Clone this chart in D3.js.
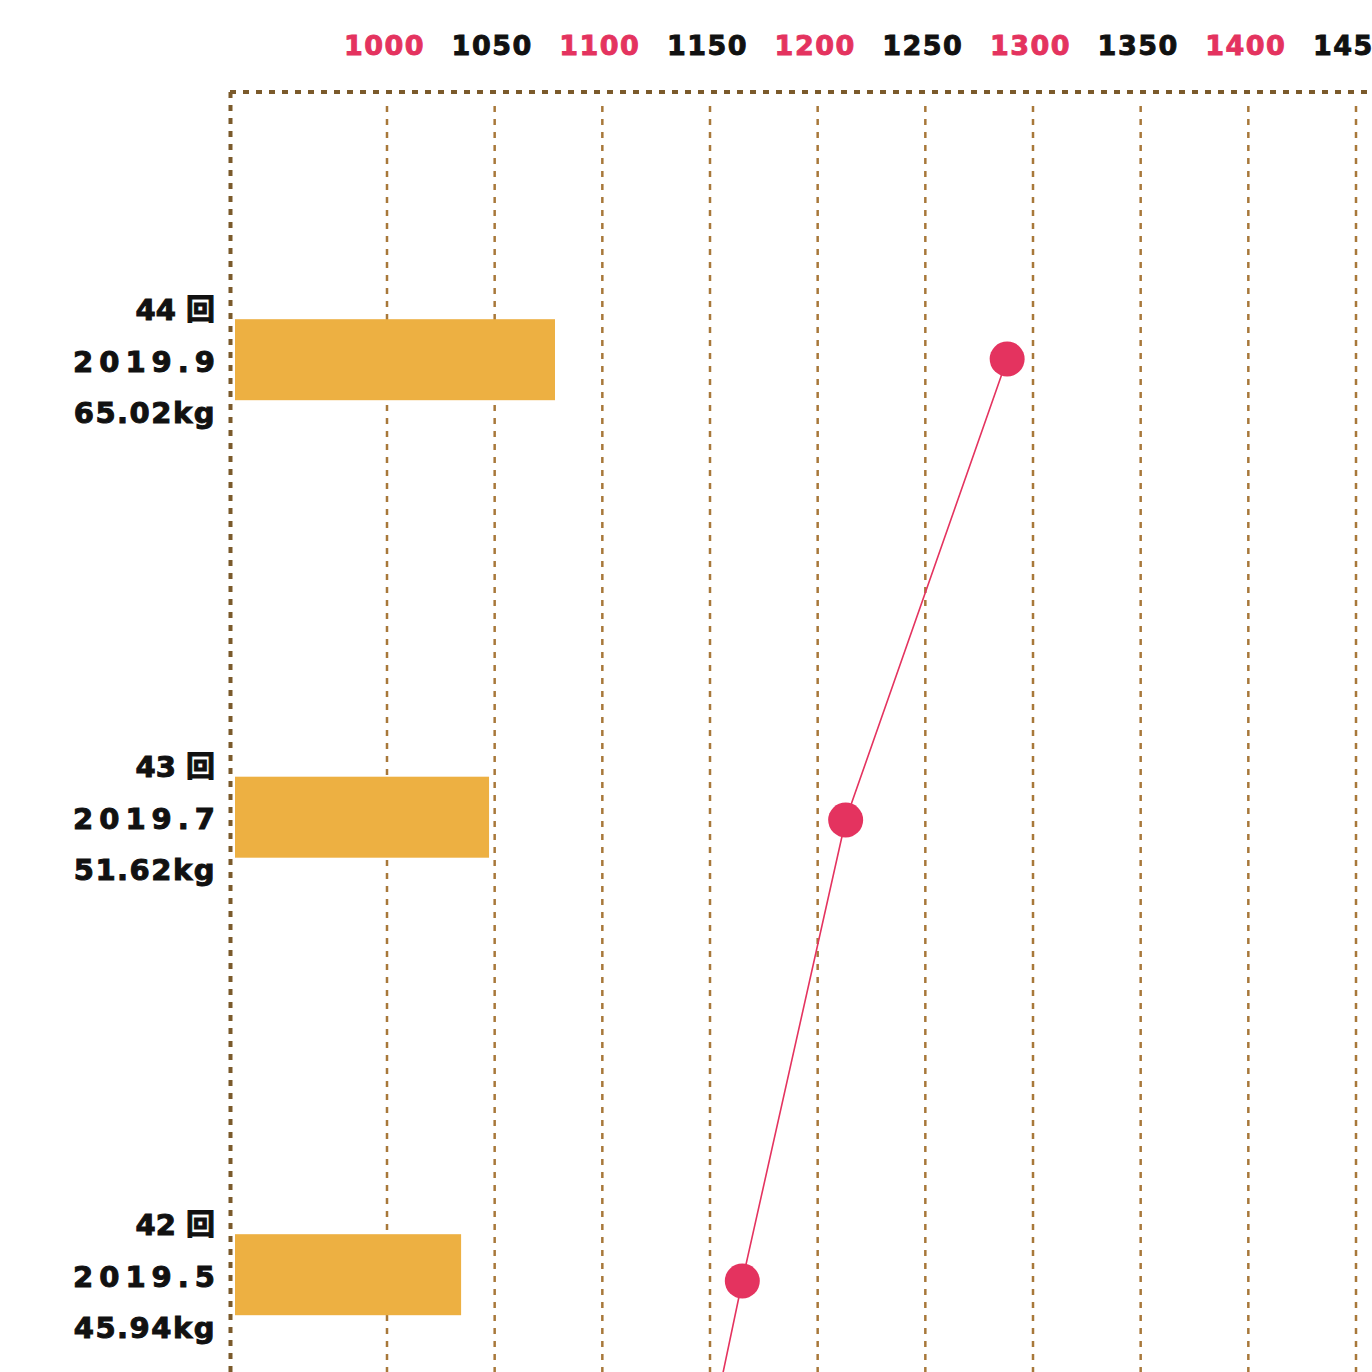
<!DOCTYPE html>
<html>
<head>
<meta charset="utf-8">
<script src="https://cdn.jsdelivr.net/npm/d3@7"></script>
<style>
  html, body { margin: 0; padding: 0; background: #fff; }
  svg { display: block; }
</style>
</head>
<body>
<svg id="chart" width="1372" height="1372"></svg>
<script>
// ---- data ----
const rounds = ["44", "43", "42", "41"];
const dates = ["2019.9", "2019.7", "2019.5", "2019.3"];
const weightsKg = [65.02, 51.62, 45.94, null];
const lineValues = [1288, 1213, 1165, 1120];
const tickValues = [1000, 1050, 1100, 1150, 1200, 1250, 1300, 1350, 1400, 1450];

const W = 1372, H = 1372;
const PINK = "#e4335f", BAR = "#edb042", BORDER = "#7b5a2b", GRID = "#a8783a";
const FONT = "'DejaVu Sans', 'Noto Sans CJK JP', sans-serif";

const svg = d3.select("#chart");

const x = d3.scaleLinear().domain([1000, 1450]).range([387, 1356]);
const y = d3.scalePoint().domain(rounds).range([359.7, 359.7 + 457.5 * 3]);
const yPt = d3.scalePoint().domain(rounds).range([359, 359 + 461 * 3]);
const xBar = d3.scaleLinear().domain([0, 65.02]).range([235, 555]);

const rows = rounds.map((r, i) => ({ round: r, date: dates[i], kg: weightsKg[i], value: lineValues[i] }));

// gridlines
svg.append("g").selectAll("line").data(tickValues).join("line")
  .attr("x1", d => x(d)).attr("x2", d => x(d))
  .attr("y1", 106).attr("y2", H)
  .attr("stroke", GRID).attr("stroke-width", 2.5)
  .attr("stroke-dasharray", "6 7");

// top axis labels
const axis = d3.axisTop(x).tickValues(tickValues).tickSize(0).tickPadding(0).tickFormat(d3.format("d"));
const ag = svg.append("g").attr("transform", "translate(-3,55)").call(axis);
ag.select(".domain").remove();
ag.selectAll("text")
  .attr("y", 0).attr("dy", 0)
  .attr("font-family", FONT).attr("font-weight", "bold").attr("font-size", 27)
  .attr("letter-spacing", 1.5)
  .attr("fill", (d, i) => i % 2 === 0 ? PINK : "#111")
  .attr("stroke", (d, i) => i % 2 === 0 ? PINK : "#111")
  .attr("stroke-width", 0.9);

// borders
svg.append("line").attr("x1", 230).attr("x2", W).attr("y1", 92).attr("y2", 92)
  .attr("stroke", BORDER).attr("stroke-width", 4).attr("stroke-dasharray", "6 7");
svg.append("line").attr("x1", 230.5).attr("x2", 230.5).attr("y1", 92).attr("y2", H)
  .attr("stroke", BORDER).attr("stroke-width", 4).attr("stroke-dasharray", "6 7");

// bars
const barData = rows.filter(d => d.kg != null);
svg.append("g").selectAll("rect").data(barData).join("rect")
  .attr("x", xBar(0)).attr("width", d => xBar(d.kg) - xBar(0))
  .attr("y", d => y(d.round) - 40.5).attr("height", 81)
  .attr("fill", BAR);

// line + points
const line = d3.line().x(d => x(d.value)).y(d => yPt(d.round));
svg.append("path").datum(rows).attr("d", line)
  .attr("fill", "none").attr("stroke", PINK).attr("stroke-width", 1.6);
svg.append("g").selectAll("circle").data(rows).join("circle")
  .attr("cx", d => x(d.value)).attr("cy", d => yPt(d.round)).attr("r", 17.5)
  .attr("fill", PINK);

// labels
const lg = svg.append("g").selectAll("g").data(barData).join("g")
  .attr("transform", d => `translate(215,${y(d.round)})`)
  .attr("font-family", FONT).attr("font-weight", "bold").attr("font-size", 29)
  .attr("fill", "#111").attr("stroke", "#111").attr("stroke-width", 1)
  .attr("text-anchor", "end");
lg.append("text").attr("y", -40).text(d => d.round + " 回");
lg.append("text").attr("x", 6).attr("y", 12).attr("letter-spacing", 6).text(d => d.date);
lg.append("text").attr("x", 1).attr("y", 63).attr("letter-spacing", 1.5).text(d => d.kg.toFixed(2) + "kg");
</script>
</body>
</html>
